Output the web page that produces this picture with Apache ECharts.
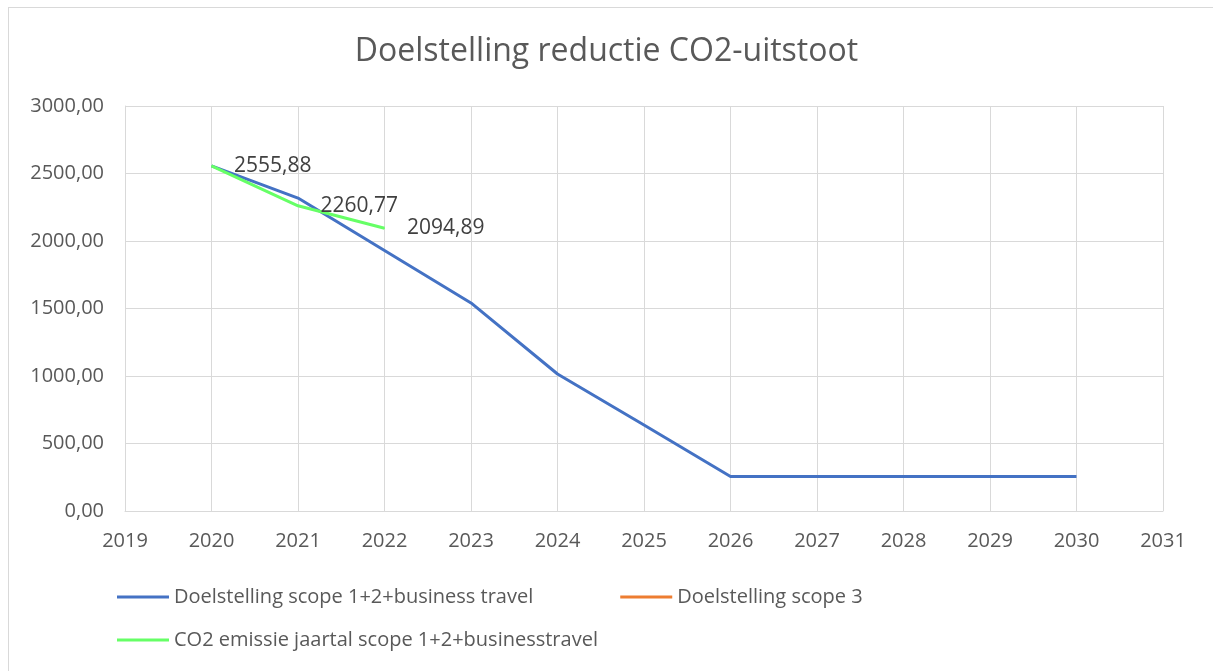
<!DOCTYPE html>
<html>
<head>
<meta charset="utf-8">
<script src="https://cdn.jsdelivr.net/npm/echarts@6/dist/echarts.min.js"></script>
<style>
  html, body { margin: 0; padding: 0; background: #fff; }
  #frame { position: absolute; left: 8px; top: 7px; width: 1220px; height: 680px; border: 1px solid #d9d9d9; box-sizing: border-box; }
  #chart { position: absolute; left: 0; top: 0; width: 1213px; height: 671px; }
</style>
</head>
<body>
<div id="frame"></div>
<div id="chart"></div>
<script>
  // jaren
  const targetYears = [2020, 2021, 2022, 2023, 2024, 2025, 2026, 2027, 2028, 2029, 2030]
  const targetValues = [2555.88, 2318, 1930, 1541, 1015, 637, 255.6, 255.6, 255.6, 255.6, 255.6]
  const scope3Values = []
  const actualYears = [2020, 2021, 2022]
  const actualValues = [2555.88, 2260.77, 2094.89]

  const fmt = v => v.toFixed(2).replace('.', ',')
  const font = '"Open Sans", sans-serif'

  const chart = echarts.init(document.getElementById('chart'))
  chart.setOption({
    animation: false,
    title: {
      text: 'Doelstelling reductie CO2-uitstoot',
      left: 'center',
      top: 31,
      textStyle: { fontFamily: font, fontSize: 32, fontWeight: 'normal', color: '#595959' }
    },
    legend: [{
      data: ['Doelstelling scope 1+2+business travel', 'Doelstelling scope 3'],
      left: 112,
      top: 582,
      itemWidth: 52,
      itemHeight: 3,
      itemGap: 87,
      icon: 'rect',
      textStyle: { fontFamily: font, fontSize: 20, color: '#595959' }
    }, {
      data: ['CO2 emissie jaartal scope 1+2+businesstravel'],
      left: 112,
      top: 625,
      itemWidth: 52,
      itemHeight: 3,
      icon: 'rect',
      textStyle: { fontFamily: font, fontSize: 20, color: '#595959' }
    }],
    grid: { left: 125, right: 50, top: 106, bottom: 160 },
    xAxis: {
      type: 'value',
      min: 2019,
      max: 2031,
      interval: 1,
      axisLine: { lineStyle: { color: '#d9d9d9' } },
      axisTick: { show: false },
      axisLabel: { formatter: v => String(v), fontFamily: font, fontSize: 20, color: '#595959', margin: 20 },
      splitLine: { show: true, lineStyle: { color: '#d9d9d9' } }
    },
    yAxis: {
      type: 'value',
      min: 0,
      max: 3000,
      interval: 500,
      axisLine: { show: true, lineStyle: { color: '#d9d9d9' } },
      axisTick: { show: false },
      axisLabel: { formatter: v => fmt(v), fontFamily: font, fontSize: 20, color: '#595959', margin: 21 },
      splitLine: { lineStyle: { color: '#d9d9d9' } }
    },
    series: [{
      name: 'Doelstelling scope 1+2+business travel',
      type: 'line',
      data: targetYears.map((y, i) => [y, targetValues[i]]),
      symbol: 'none',
      color: '#4472C4',
      lineStyle: { width: 3 }
    }, {
      name: 'Doelstelling scope 3',
      type: 'line',
      data: scope3Values,
      symbol: 'none',
      color: '#ED7D31',
      lineStyle: { width: 3 }
    }, {
      name: 'CO2 emissie jaartal scope 1+2+businesstravel',
      type: 'line',
      data: actualYears.map((y, i) => [y, actualValues[i]]),
      symbol: 'circle',
      symbolSize: 1,
      showSymbol: true,
      color: '#66FF66',
      lineStyle: { width: 3 },
      label: {
        show: true,
        position: 'right',
        distance: 22,
        formatter: p => fmt(p.value[1]),
        fontFamily: font,
        fontSize: 21,
        color: '#404040'
      }
    }]
  })
</script>
</body>
</html>
